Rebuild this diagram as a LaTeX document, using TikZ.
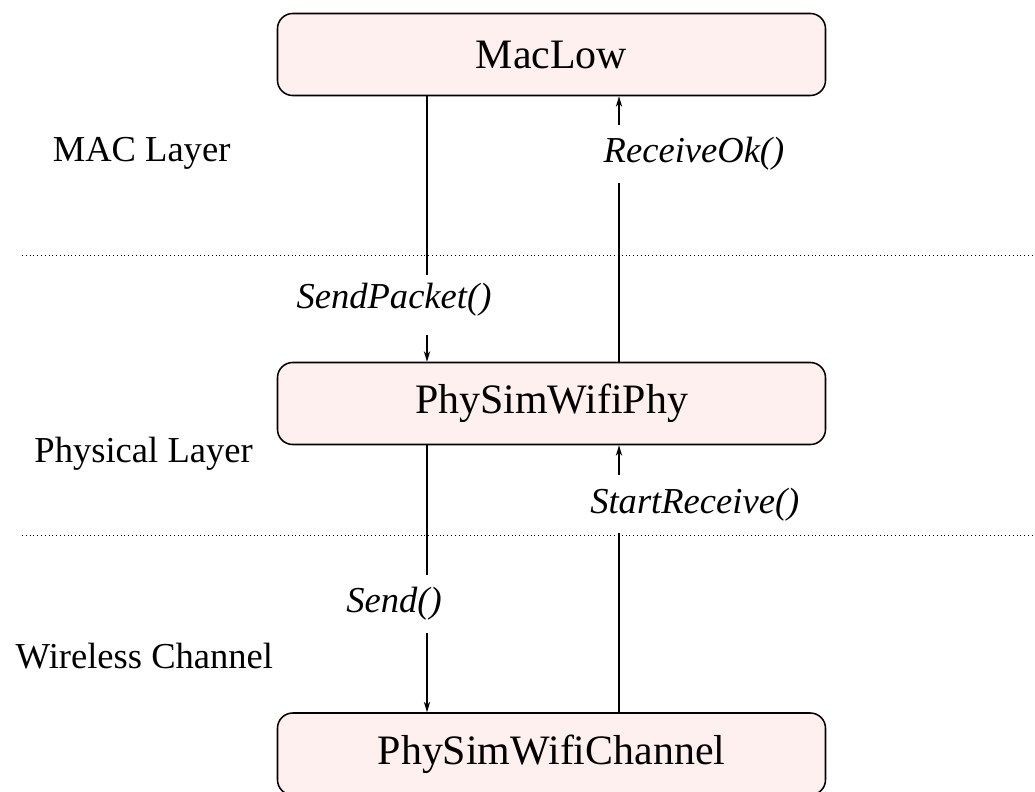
\documentclass[tikz,border=0pt]{standalone}
\usepackage{fontspec}
\setmainfont{Liberation Serif}
\usetikzlibrary{arrows.meta}

\begin{document}
\begin{tikzpicture}[>={Stealth[length=7.5pt,width=4.5pt]}, line width=0.9pt,
	block/.style={draw, line width=1.1pt, rounded corners=0.38cm, fill=red!6, minimum width=13.7cm, minimum height=2.05cm, font=\fontsize{29.8}{34}\selectfont},
	layer/.style={anchor=base, font=\fontsize{26}{31}\selectfont},
	call/.style={anchor=base, font=\fontsize{26}{31}\selectfont\itshape},
	sep/.style={dotted, line width=0.7pt}]
	\useasboundingbox (0,0) rectangle (25.875,-19.775);
	% Blocks
	\node[block] (maclow) at (13.7875,-1.3625) {MacLow};
	\node[block] (phy) at (13.7875,-10.0875) {PhySimWifiPhy};
	\node[block] (channel) at (13.7875,-18.85) {PhySimWifiChannel};
	% Layer borders
	\coordinate (b1) at (0.55,-6.375);
	\coordinate (b2) at (0.55,-13.375);
	\draw[sep] (b1) -- ++(25.325,0);
	\draw[sep] (b2) -- ++(25.325,0);
	\node[layer] (maclayer) at (3.54,-4.025) {MAC Layer};
	\node[layer] (phylayer) at (3.59,-11.55) {Physical Layer};
	\node[layer] (chlayer) at (3.61,-16.7) {Wireless Channel};
	% Calls
	\node[call] (sendpacket) at (9.85,-7.7) {SendPacket()};
	\node[call] (receiveok) at (17.35,-4.05) {ReceiveOk()};
	\node[call] (startreceive) at (17.37,-12.825) {StartReceive()};
	\node[call] (send) at (9.85,-15.3) {Send()};
	\coordinate (sp1) at (10.675,-6.875);
	\coordinate (sp2) at (10.675,-8.375);
	\coordinate (ro1) at (15.475,-4.575);
	\coordinate (ro2) at (15.475,-3.125);
	\coordinate (sr1) at (15.475,-13.325);
	\coordinate (sr2) at (15.475,-11.875);
	\coordinate (sd1) at (10.675,-14.375);
	\coordinate (sd2) at (10.675,-15.825);
	\draw (maclow.south -| sp1) -- (sp1);
	\draw[->] (sp2) -- (phy.north -| sp2);
	\draw (phy.north -| ro1) -- (ro1);
	\draw[->] (ro2) -- (maclow.south -| ro2);
	\draw (channel.north -| sr1) -- (sr1);
	\draw[->] (sr2) -- (phy.south -| sr2);
	\draw (phy.south -| sd1) -- (sd1);
	\draw[->] (sd2) -- (channel.north -| sd2);
\end{tikzpicture}
\end{document}
